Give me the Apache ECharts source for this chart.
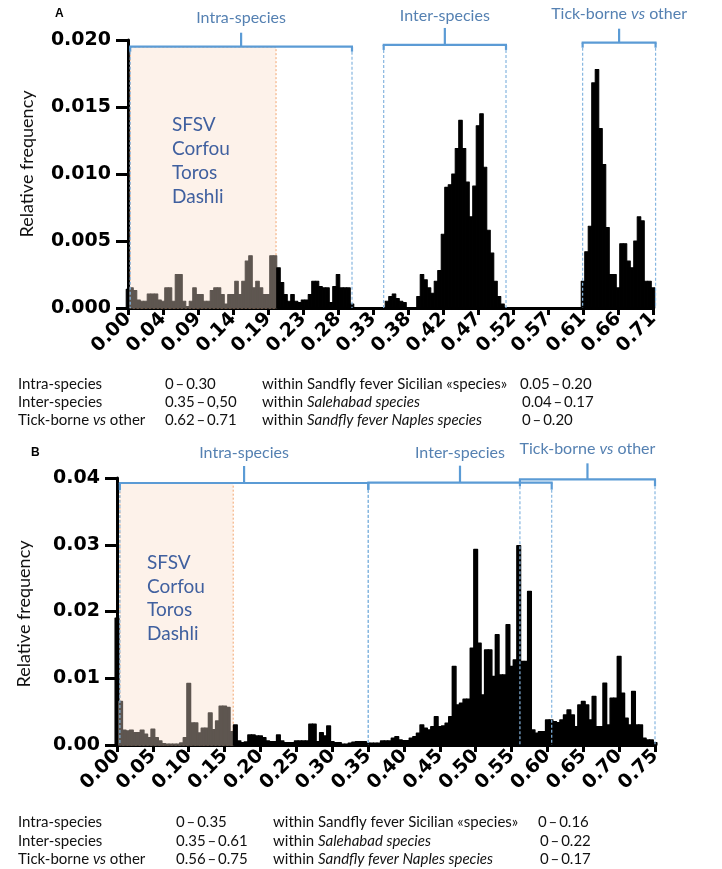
<!DOCTYPE html>
<html><head><meta charset="utf-8">
<script src="https://cdn.jsdelivr.net/npm/echarts@6/dist/echarts.min.js"></script>
<style>html,body{margin:0;padding:0;background:#fff}#c{width:722px;height:869px}</style>
</head><body><div id="c"></div>
<script>
// ---------- DATA ----------
const binWidthA = 0.00475;          // histogram bin width, panel A (bins centred on k*binWidth)
const valuesA = [
 0.0014,0.0015,0.0013,0.0006,0.0005,0.0005,0.00105,0.00105,0.00105,0.0006,
 0.0005,0.0015,0.0015,0.0005,0.0025,0.0025,0.0005,0.0001,0.0005,0.0015,
 0.0010,0.0010,0.0005,0.0005,0.0013,0.0015,0.0015,0.0010,0.0003,0.0010,
 0.0010,0.0020,0.0010,0.0020,0.0035,0.0039,0.0015,0.0020,0.0015,0.0010,
 0.0010,0.0039,0.0039,0.0030,0.0019,0.0010,0.0005,0.0010,0.0005,0.0004,
 0.0006,0.0006,0.0010,0.0020,0.0020,0.0016,0.0015,0.0015,0.0004,0.0016,
 0.0025,0.0015,0.0015,0.0015,0.0003,0,0,0,0,0,
 0,0,0,0,0.0005,0.00085,0.00105,0.0007,0.0005,0.0004,
 0,0,0,0.00085,0.0025,0.0021,0.0015,0.0011,0.0020,0.0028,
 0.0055,0.0090,0.0092,0.0100,0.0119,0.0140,0.0119,0.0094,0.0068,0.0091,
 0.0136,0.0145,0.0105,0.0058,0.0041,0.0020,0.00085,0.0003,0,0,
 0,0,0,0,0,0,0,0,0,0,
 0,0,0,0,0,0,0,0,0,0,
 0.0020,0.0042,0.0061,0.0168,0.0178,0.0134,0.0107,0.0060,0.0025,0.0025,
 0.0015,0.0048,0.0048,0.0035,0.0030,0.0050,0.0068,0.0065,0.0020,0.0020,
 0.0015
];
const binWidthB = 0.005;
const valuesB = [
 0.0190,0.0065,0.0022,0.0021,0.0022,0.00185,0.00185,0.0022,0.0016,0.0011,
 0.00235,0.0011,0.0006,0.0002,0.0001,0.0001,0.0001,0.0001,0.0003,0.0011,
 0.0092,0.0033,0.0033,0.0018,0.0025,0.0025,0.0048,0.0023,0.0036,0.0058,
 0.0058,0.0056,0.0020,0.0030,0.0006,0.00035,0.00045,0.0015,0.0015,0.00135,
 0.00135,0.0011,0.0006,0.0005,0.0005,0.0015,0.0006,0.00035,0.00035,0.00035,
 0.0006,0.0006,0.0006,0.0006,0.0031,0.0031,0.0005,0.00185,0.00135,0.00285,
 0.0005,0.00035,0.00035,0.0001,0.0001,0.00025,0.0004,0.0005,0.0005,0.0005,
 0.00025,0.00025,0.00025,0.00025,0.0006,0.0006,0.0006,0.0010,0.00125,0.00075,
 0.00065,0.00065,0.0010,0.00125,0.00175,0.0030,0.0025,0.00225,0.00275,0.00425,
 0.00275,0.00285,0.00325,0.00425,0.01175,0.0060,0.00625,0.00685,0.00685,0.0145,
 0.0293,0.01525,0.0075,0.01425,0.01425,0.01025,0.0165,0.0105,0.0105,0.0180,
 0.01175,0.01275,0.02985,0.0125,0.0125,0.0230,0.00225,0.00175,0.0020,0.0020,
 0.00375,0.00375,0.0035,0.00335,0.00375,0.0045,0.00525,0.0045,0.00275,0.0060,
 0.0065,0.0060,0.00375,0.00725,0.00275,0.00275,0.00925,0.0030,0.0070,0.0070,
 0.01325,0.00775,0.0040,0.0030,0.0080,0.0030,0.0030,0.0010,0.00075,0.00075,
 0.00035
];
const tickStepA = 0.0475;
const tickLabelsA = ['0.00','0.04','0.09','0.14','0.19','0.23','0.28','0.33','0.38','0.42','0.47','0.52','0.57','0.61','0.66','0.71'];
const tickStepB = 0.05;
const tickLabelsB = ['0.00','0.05','0.10','0.15','0.20','0.25','0.30','0.35','0.40','0.45','0.50','0.55','0.60','0.65','0.70','0.75'];

// annotation ranges (x from, x to, bracket level)
const bracketLabels = ['Intra-species','Inter-species','{n|Tick-borne }{i|vs}{n| other}'];
const bracketFromA = [0.003, 0.347, 0.617];
const bracketToA   = [0.304, 0.513, 0.716];
const bracketLevelA = [0.01950, 0.01963, 0.01980];
const bracketFromB = [0.004, 0.3503, 0.5617];
const bracketToB   = [0.3503, 0.606, 0.75];
const bracketLevelB = [0.03925, 0.0393, 0.0398];
const shadeA = [0.003, 0.2009, 0.01948];   // from, to, top
const shadeB = [0.004, 0.162, 0.03925];
const virusNames = ['SFSV','Corfou','Toros','Dashli'];

const tableA = [
 ['Intra-species','0\u2009\u2013\u20090.30','within Sandfly fever Sicilian \u00abspecies\u00bb','0.05\u2009\u2013\u20090.20'],
 ['Inter-species','0.35\u2009\u2013\u20090,50','within {i|Salehabad species}','0.04\u2009\u2013\u20090.17'],
 ['Tick-borne {i|vs} other','0.62\u2009\u2013\u20090.71','within {i|Sandfly fever Naples species}','0\u2009\u2013\u20090.20']
];
const tableB = [
 ['Intra-species','0\u2009\u2013\u20090.35','within Sandfly fever Sicilian \u00abspecies\u00bb','0\u2009\u2013\u20090.16'],
 ['Inter-species','0.35\u2009\u2013\u20090.61','within {i|Salehabad species}','0\u2009\u2013\u20090.22'],
 ['Tick-borne {i|vs} other','0.56\u2009\u2013\u20090.75','within {i|Sandfly fever Naples species}','0\u2009\u2013\u20090.17']
];

// ---------- STYLE ----------
const GRAY = '#5e5650', BR = '#5b9bd5', DASH = '#86b6e0', LBL = '#5581b2', NAMEC = '#40609f';
const TXT = 'Lato, "Noto Sans", sans-serif';
const NUM = '"DejaVu Sans", sans-serif';

const chart = echarts.init(document.getElementById('c'));

function barRender(binW, shade, lw) {
  return function (params, api) {
    const x = api.value(0), v = api.value(1);
    if (!(v > 0)) return null;
    const p0 = api.coord([x - binW / 2, v]);
    const p1 = api.coord([x + binW / 2, 0]);
    const c = (x > shade[0] && x < shade[1]) ? GRAY : '#000';
    return { type: 'rect', shape: { x: p0[0], y: p0[1], width: p1[0] - p0[0], height: p1[1] - p0[1] },
      style: { fill: c, stroke: c, lineWidth: lw, lineJoin: 'round' } };
  };
}
function shadeRender(params, api) {
  const p0 = api.coord([api.value(0), api.value(2)]);
  const p1 = api.coord([api.value(1), 0]);
  return { type: 'rect', shape: { x: p0[0], y: p0[1], width: p1[0] - p0[0], height: p1[1] - p0[1] },
    style: { fill: '#fdf2ea', stroke: '#f2a56f', lineWidth: 1, lineDash: [2, 2] } };
}
function bracketRender(rise, down, labelOff) {
  return function (params, api) {
    const i = params.dataIndex;
    const a = api.value(0), b = api.value(1), lv = api.value(2);
    const pL = api.coord([a, lv]), pR = api.coord([b, lv]);
    const y0 = api.coord([a, 0])[1];
    const y = pL[1], cx = (pL[0] + pR[0]) / 2;
    const solid = { stroke: BR, lineWidth: 2.2 };
    const dash = { stroke: DASH, lineWidth: 1.2, lineDash: [3, 2] };
    return { type: 'group', children: [
      { type: 'line', shape: { x1: pL[0] - 1, y1: y, x2: pR[0] + 1, y2: y }, style: solid },
      { type: 'line', shape: { x1: pL[0], y1: y, x2: pL[0], y2: y + down }, style: solid },
      { type: 'line', shape: { x1: pR[0], y1: y, x2: pR[0], y2: y + down }, style: solid },
      { type: 'line', shape: { x1: cx, y1: y, x2: cx, y2: y - rise[i] }, style: solid },
      { type: 'line', shape: { x1: pL[0], y1: y + down, x2: pL[0], y2: y0 }, style: dash },
      { type: 'line', shape: { x1: pR[0], y1: y + down, x2: pR[0], y2: y0 }, style: dash },
      { type: 'text', x: cx, y: y - labelOff, style: { text: bracketLabels[i], fill: LBL, fontSize: 16,
        fontFamily: TXT, align: 'center', verticalAlign: 'middle',
        rich: { n: { fill: LBL, fontSize: 16, fontFamily: TXT }, i: { fill: LBL, fontSize: 16, fontFamily: TXT, fontStyle: 'italic' } } } }
    ] };
  };
}

function xAxisCfg(gi, max, step, labels) {
  return { gridIndex: gi, type: 'value', min: 0, max: max, interval: step,
    axisLine: { show: true, lineStyle: { color: '#000', width: 3 } },
    axisTick: { show: true, length: 7, lineStyle: { color: '#000', width: 3 } },
    splitLine: { show: false },
    axisLabel: { rotate: 45, margin: 8, color: '#000', fontFamily: NUM, fontWeight: 'bold', fontSize: 19,
      formatter: v => labels[Math.round(v / step)] || '' } };
}
function yAxisCfg(gi, max, step, dec) {
  return { gridIndex: gi, type: 'value', min: 0, max: max, interval: step,
    axisLine: { show: true, lineStyle: { color: '#000', width: 3 } },
    axisTick: { show: true, length: 12, lineStyle: { color: '#000', width: 3 } },
    splitLine: { show: false },
    axisLabel: { margin: 17, color: '#000', fontFamily: NUM, fontWeight: 'bold', fontSize: 19,
      formatter: v => v.toFixed(dec) } };
}

const richT = { i: { fontStyle: 'italic', fontFamily: TXT, fontSize: 15, fill: '#111' } };
function tableGraphics(rows, cols, ys, col4shift) {
  const out = [];
  rows.forEach((r, ri) => r.forEach((t, ci) => {
    out.push({ type: 'text', x: cols[ci] + (ci === 3 && ri > 0 ? col4shift : 0), y: ys[ri],
      style: { text: t, fill: '#111', fontFamily: TXT, fontSize: 15, verticalAlign: 'middle', rich: richT } });
  }));
  return out;
}

const option = {
  animation: false,
  backgroundColor: '#fff',
  grid: [
    { left: 128, top: 40, width: 525, height: 268 },
    { left: 117, top: 478, width: 538, height: 267 }
  ],
  xAxis: [ xAxisCfg(0, 0.7125, tickStepA, tickLabelsA), xAxisCfg(1, 0.75, tickStepB, tickLabelsB) ],
  yAxis: [ yAxisCfg(0, 0.02, 0.005, 3), yAxisCfg(1, 0.04, 0.01, 2) ],
  series: [
    { type: 'custom', xAxisIndex: 0, yAxisIndex: 0, z: 1, clip: false, renderItem: shadeRender, data: [shadeA] },
    { type: 'custom', xAxisIndex: 1, yAxisIndex: 1, z: 1, clip: false, renderItem: shadeRender, data: [shadeB] },
    { type: 'custom', xAxisIndex: 0, yAxisIndex: 0, z: 2, clip: false, renderItem: barRender(binWidthA, shadeA, 1.1),
      data: valuesA.map((v, i) => [i * binWidthA, v]) },
    { type: 'custom', xAxisIndex: 1, yAxisIndex: 1, z: 2, clip: false, renderItem: barRender(binWidthB, shadeB, 1.5),
      data: valuesB.map((v, i) => [i * binWidthB, v]) },
    { type: 'custom', xAxisIndex: 0, yAxisIndex: 0, z: 3, clip: false, renderItem: bracketRender([14, 17, 14], 5, 29),
      data: bracketFromA.map((f, i) => [f, bracketToA[i], bracketLevelA[i]]) },
    { type: 'custom', xAxisIndex: 1, yAxisIndex: 1, z: 3, clip: false, renderItem: bracketRender([17, 17, 16], 7, 30),
      data: bracketFromB.map((f, i) => [f, bracketToB[i], bracketLevelB[i]]) }
  ],
  graphic: [
    { type: 'text', x: 55, y: 14, style: { text: 'A', fill: '#000', font: 'bold 12px "Liberation Sans", Arial', verticalAlign: 'middle' } },
    { type: 'text', x: 31, y: 453, style: { text: 'B', fill: '#000', font: 'bold 12px "Liberation Sans", Arial', verticalAlign: 'middle' } },
    { type: 'text', x: 27, y: 164, rotation: Math.PI / 2, style: { text: 'Relative frequency', fill: '#111', fontFamily: TXT, fontSize: 18, align: 'center', verticalAlign: 'middle' } },
    { type: 'text', x: 24, y: 614, rotation: Math.PI / 2, style: { text: 'Relative frequency', fill: '#111', fontFamily: TXT, fontSize: 18, align: 'center', verticalAlign: 'middle' } },
    { type: 'text', x: 172, y: 113, z: 10, style: { text: virusNames.join('\n'), fill: NAMEC, fontFamily: TXT, fontSize: 19, lineHeight: 24 } },
    { type: 'text', x: 147, y: 551, z: 10, style: { text: virusNames.join('\n'), fill: NAMEC, fontFamily: TXT, fontSize: 19, lineHeight: 23.7 } }
  ].concat(tableGraphics(tableA, [18, 165, 262, 520], [384, 402, 420], 2))
   .concat(tableGraphics(tableB, [18, 176, 273, 538], [822, 841, 859], 2))
};
chart.setOption(option);
</script>
</body></html>
